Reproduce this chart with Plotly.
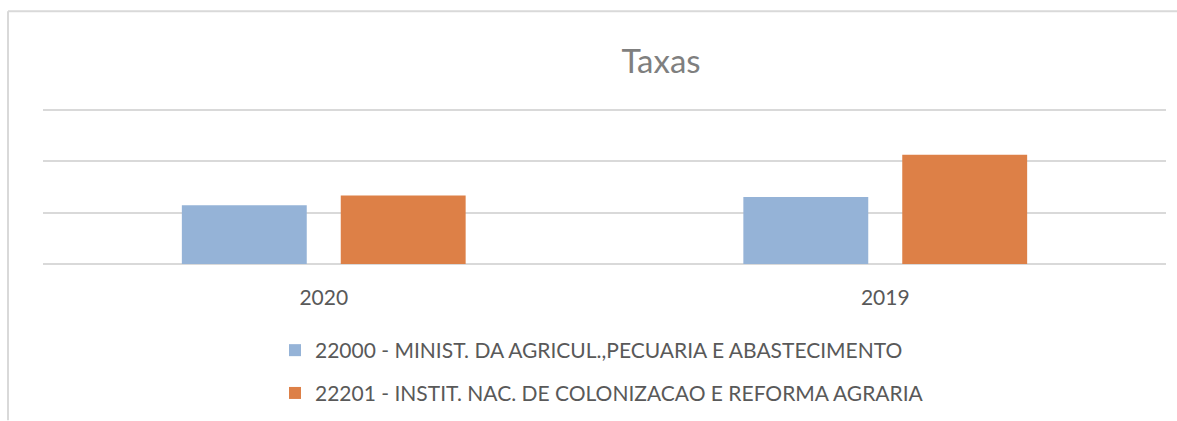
import plotly.graph_objects as go

categories = ["2020", "2019"]
series_names = [
    "22000 - MINIST. DA AGRICUL.,PECUARIA E ABASTECIMENTO",
    "22201 - INSTIT. NAC. DE COLONIZACAO E REFORMA AGRARIA",
]
values_22000 = [1.14, 1.30]
values_22201 = [1.33, 2.12]
colors = ["#95B3D7", "#DD8047"]

W, H = 1177, 421
YTOP = 3.05
BASE, TOPGRID = 264.3, 109.5
ML, MR = 43, 11
PH = (BASE - TOPGRID) * YTOP / 3
MB = H - BASE
MT = BASE - PH
PW = W - ML - MR

def px_x(p):
    return (p - ML) / PW

def px_y(p):
    return (BASE - p) / PH

fig = go.Figure()
for name, vals, col in zip(series_names, [values_22000, values_22201], colors):
    fig.add_trace(go.Bar(
        x=categories, y=vals, name=name, legendgroup=name,
        marker=dict(color=col, line=dict(width=0)),
    ))

font = "Lato, 'Open Sans', sans-serif"
fig.update_layout(
    width=W, height=H,
    margin=dict(l=ML, r=MR, t=MT, b=MB, autoexpand=False),
    paper_bgcolor="white", plot_bgcolor="white",
    barmode="group", bargap=0.434, bargroupgap=0.214,
    title=dict(text="Taxas", x=661 / W, xref="container", xanchor="center",
               y=1 - 61 / H, yref="container", yanchor="middle",
               font=dict(family=font, size=33, color="#7F7F7F")),
    xaxis=dict(showgrid=False, showline=False, ticks="", zeroline=False,
               tickfont=dict(family=font, size=21, color="#595959"),
               ticklabelstandoff=19, automargin=False),
    yaxis=dict(range=[0, YTOP], dtick=1, showticklabels=False, ticks="",
               showgrid=True, gridcolor="#D9D9D9", gridwidth=1.5,
               zeroline=True, zerolinecolor="#D9D9D9", zerolinewidth=1.5,
               showline=False, automargin=False),
    showlegend=True,
    legend=dict(x=275 / W, xref="container", xanchor="left",
                y=1 - 330 / H, yref="container", yanchor="top",
                orientation="v", tracegroupgap=12.5,
                font=dict(family=font, size=21, color="#595959"),
                bgcolor="rgba(0,0,0,0)"),
    shapes=[
        dict(type="line", xref="paper", yref="paper",
             x0=px_x(8), x1=px_x(8), y0=px_y(11), y1=px_y(421),
             line=dict(color="#D9D9D9", width=2)),
        dict(type="line", xref="paper", yref="paper",
             x0=px_x(8), x1=px_x(1177), y0=px_y(11), y1=px_y(11),
             line=dict(color="#D9D9D9", width=2)),
    ],
)

fig.write_html("out.html", config={"displayModeBar": False},
               post_script="document.body.style.margin='0';")
